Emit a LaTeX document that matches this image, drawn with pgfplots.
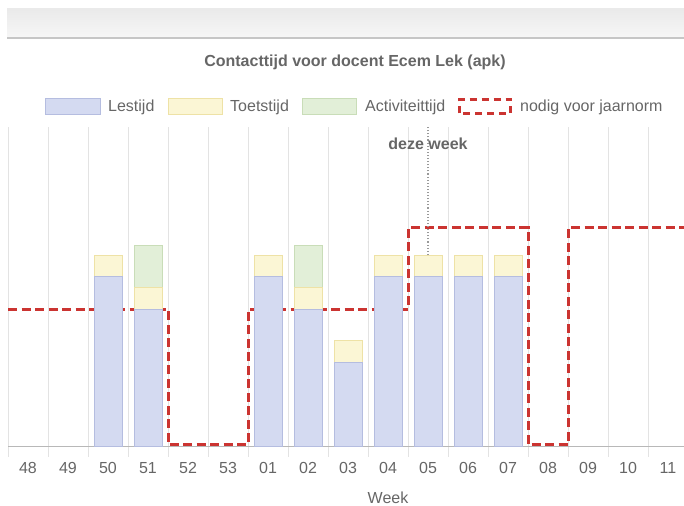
\documentclass[border=0pt]{standalone}
\usepackage{pgfplots}
\usepackage{pgfplotstable}
\pgfplotsset{compat=1.18}
\usepackage{fontspec}
\setmainfont{Liberation Sans}
\definecolor{txt}{HTML}{666666}
\definecolor{lestF}{HTML}{D4DAF1}
\definecolor{lestD}{HTML}{B5BDE0}
\definecolor{toetF}{HTML}{FBF6D5}
\definecolor{toetD}{HTML}{EEE2A6}
\definecolor{actF}{HTML}{E2EFD8}
\definecolor{actD}{HTML}{C9DDB8}
\definecolor{norm}{HTML}{CB3431}
\definecolor{gridc}{HTML}{E3E3E3}
\definecolor{axisc}{HTML}{B8B8B8}
\definecolor{bandT}{HTML}{EAEAEA}
\definecolor{bandB}{HTML}{F6F6F6}
\definecolor{bandL}{HTML}{C6C6C6}

\pgfplotstableread{
x lest toets act
2 26.6 3.4 0
3 21.5 3.4 6.6
6 26.6 3.4 0
7 21.5 3.4 6.6
8 13.2 3.4 0
9 26.6 3.4 0
10 26.6 3.4 0
11 26.6 3.4 0
12 26.6 3.4 0
}\bars

\pgfplotstableread{
x norm
-0.5 21.5
0.5 21.5
1.5 21.5
2.5 21.5
3.5 0.3
4.5 0.3
5.5 21.5
6.5 21.5
7.5 21.5
8.5 21.5
9.5 34.3
10.5 34.3
11.5 34.3
12.5 0.3
13.5 34.3
14.5 34.3
15.5 34.3
16.5 34.3
}\normtab

\newcommand{\fs}{\fontsize{16bp}{19bp}\selectfont}

\begin{document}
\begin{tikzpicture}[font=\fs]
\useasboundingbox (0bp,0bp) rectangle (684bp,506bp);
\clip (0bp,0bp) rectangle (684bp,506bp);
% top band
\shade[top color=bandT, bottom color=bandB] (7bp,469bp) rectangle (684bp,497bp);
\fill[bandL] (7bp,467bp) rectangle (684bp,469bp);
% title
\node[txt, font=\bfseries\fs] at (355bp,444bp) {Contacttijd voor docent Ecem Lek (apk)};
% legend
\filldraw[fill=lestF, draw=lestD, line width=1bp] (45.5bp,391.5bp) rectangle (100.5bp,407.5bp);
\node[txt, anchor=base west, inner sep=0] at (108bp,394bp) {Lestijd};
\filldraw[fill=toetF, draw=toetD, line width=1bp] (168.5bp,391.5bp) rectangle (222.5bp,407.5bp);
\node[txt, anchor=base west, inner sep=0] at (230bp,394bp) {Toetstijd};
\filldraw[fill=actF, draw=actD, line width=1bp] (302.5bp,391.5bp) rectangle (356.5bp,407.5bp);
\node[txt, anchor=base west, inner sep=0] at (365bp,394bp) {Activiteittijd};
\draw[norm, line width=3bp, dash pattern=on 7bp off 5bp] (459.5bp,392.5bp) rectangle (510.5bp,406.5bp);
\node[txt, anchor=base west, inner sep=0] at (520bp,394bp) {nodig voor jaarnorm};

\begin{axis}[
  at={(8bp,59.3bp)}, anchor=south west, scale only axis,
  width=760bp, height=319.4bp,
  xmin=-0.5, xmax=18.5, ymin=0, ymax=50,
  xtick={0,...,16},
  xticklabels={48,49,50,51,52,53,01,02,03,04,05,06,07,08,09,10,11},
  minor xtick={-0.5,0.5,...,18.5},
  ytick={0,10,...,50}, yticklabels={},
  xminorgrids, ymajorgrids,
  grid style={gridc, line width=1bp},
  minor grid style={gridc, line width=1bp},
  major tick length=0pt, minor tick length=10bp, tick align=outside,
  minor tick style={gridc, line width=1bp},
  axis x line*=bottom, axis y line=none,
  x axis line style={axisc, line width=1bp, -},
  xticklabel style={txt, yshift=-12bp, font=\fs},
  /pgf/number format/assume math mode=true,
  clip=false,
]
\addplot[norm, line width=3bp, dash pattern=on 9bp off 4.5bp, const plot, no marks] table[x=x,y=norm]{\normtab};
\draw[black!40, dotted, line width=1.1bp] (axis cs:10,0) -- (axis cs:10,50);
\node[txt, font=\bfseries\fs] at (axis cs:10,47.4) {deze week};
\end{axis}

\begin{axis}[
  at={(8bp,59.3bp)}, anchor=south west, scale only axis,
  width=760bp, height=319.4bp,
  xmin=-0.5, xmax=18.5, ymin=0, ymax=50,
  hide axis, ybar stacked, bar width=0.7,
]
\addplot[fill=lestF, draw=lestD, line width=1bp] table[x=x,y=lest]{\bars};
\addplot[fill=toetF, draw=toetD, line width=1bp] table[x=x,y=toets]{\bars};
\addplot[fill=actF, draw=actD, line width=1bp] table[x=x,y=act]{\bars};
\end{axis}
\node[txt, anchor=base, inner sep=0] at (388bp,3bp) {Week};
\end{tikzpicture}
\end{document}
